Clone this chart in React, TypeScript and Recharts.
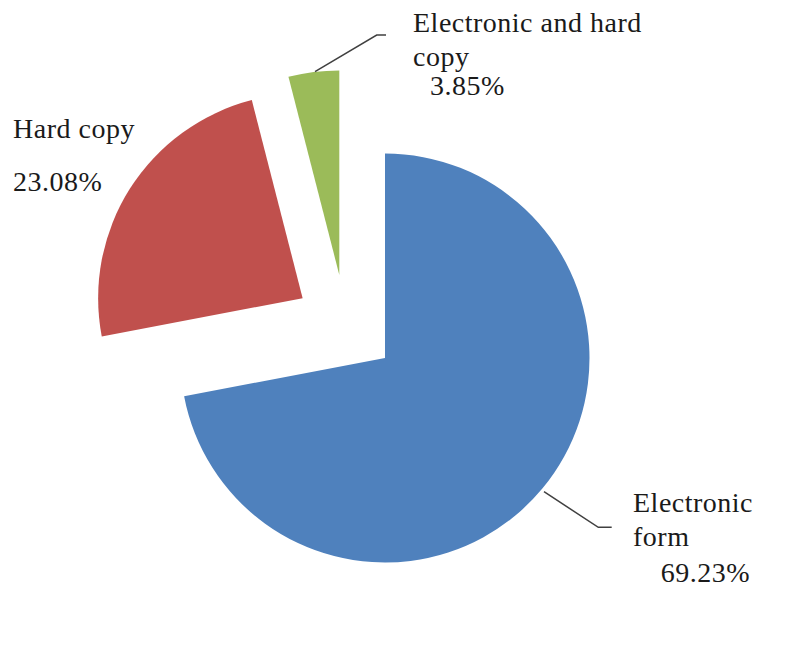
import { PieChart, Pie, Cell } from "recharts";

// Survey answers: counts out of 26 respondents (one did not answer, so the pie
// only shows three slices and the printed shares are of 26, not of 25).
const categories = ["Electronic form", "Hard copy", "Electronic and hard copy"];
const counts = [18, 6, 1];
const percentLabels = ["69.23%", "23.08%", "3.85%"];

const COLORS = ["#4F81BD", "#C0504D", "#9BBB59"];

// chart geometry (chart coords)
const W = 790;
const H = 630;
const CX = 337.7;
const CY = 317.5;
const R = 204.5;
const EXPLODE = 51;
const FONT = "Liberation Serif";
const FS = 28;

// label placement per slice (Excel placed these by hand)
const labelLayout = [
  { lines: ["Electronic", "form"], x: 625, y: 503.7, pctX: 652.7, pctY: 573.7, leader: [[536, 483.7], [590.3, 519.3], [603.7, 519.3]] },
  { lines: ["Hard copy"], x: 5, y: 130, pctX: 5, pctY: 182.7, leader: null },
  { lines: ["Electronic and hard", "copy"], x: 405, y: 23.7, pctX: 422, pctY: 87, leader: [[307, 63.7], [368.7, 27], [378, 27]] },
];

const data = categories.map((name, i) => ({ name, value: counts[i] }));
const total = counts.reduce((a, b) => a + b, 0);

// mid angle of each slice (recharts degrees, start at 12 o'clock, clockwise)
function midAngle(i: number) {
  const before = counts.slice(0, i).reduce((a, b) => a + b, 0);
  const mid = ((before + counts[i] / 2) / total) * 360;
  return 90 - mid;
}

function renderLabel(slice: number) {
  return (props: { index?: number }) => {
    if (props.index !== slice) return <g />;
    const l = labelLayout[slice];
    return (
      <g>
        {l.leader && (
          <polyline
            points={l.leader.map((p) => p.join(",")).join(" ")}
            fill="none"
            stroke="#404040"
            strokeWidth={1.5}
          />
        )}
        {l.lines.map((t, k) => (
          <text key={k} x={l.x} y={l.y + k * 34.3} fontFamily={FONT} fontSize={FS} letterSpacing={0.5} fill="#1a1a1a" textAnchor="start">
            {t}
          </text>
        ))}
        <text x={l.pctX} y={l.pctY} fontFamily={FONT} fontSize={FS} letterSpacing={0.5} fill="#1a1a1a" textAnchor="start">
          {percentLabels[slice]}
        </text>
      </g>
    );
  };
}

export default function App() {
  return (
    <div style={{ width: W, height: H, background: "#fff" }}>
      <PieChart width={W} height={H} margin={{ top: 0, right: 0, bottom: 0, left: 0 }}>
        {categories.map((name, s) => {
          const a = (midAngle(s) * Math.PI) / 180;
          return (
            <Pie
              key={name}
              data={data}
              dataKey="value"
              nameKey="name"
              cx={CX + EXPLODE * Math.cos(a)}
              cy={CY - EXPLODE * Math.sin(a)}
              outerRadius={R}
              innerRadius={0}
              startAngle={90}
              endAngle={-270}
              stroke="none"
              label={renderLabel(s)}
              labelLine={false}
              legendType="none"
              isAnimationActive={false}
            >
              {data.map((_, i) => (
                <Cell key={i} fill={i === s ? COLORS[i] : "transparent"} />
              ))}
            </Pie>
          );
        })}
      </PieChart>
    </div>
  );
}
